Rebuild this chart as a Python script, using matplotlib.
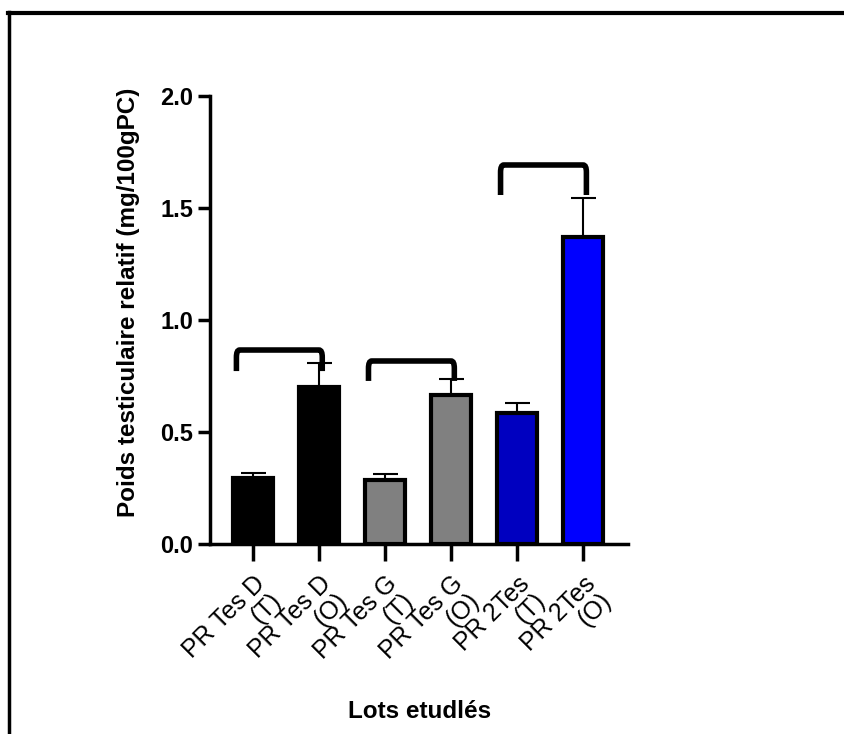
import matplotlib
matplotlib.use("Agg")
import matplotlib.pyplot as plt
from matplotlib.lines import Line2D
from matplotlib.path import Path
from matplotlib.patches import PathPatch

plt.rcParams['font.family'] = ['Liberation Sans', 'DejaVu Sans']

# ── données ───────────────────────────────────────────
lots = ["PR Tes D\n(T)", "PR Tes D\n(O)", "PR Tes G\n(T)", "PR Tes G\n(O)", "PR 2Tes\n(T)", "PR 2Tes\n(O)"]
moyennes = [0.295, 0.70, 0.286, 0.665, 0.585, 1.37]
erreurs = [0.023, 0.108, 0.027, 0.073, 0.044, 0.175]
couleurs = ["#000000", "#000000", "#808080", "#808080", "#0000C0", "#0000FF"]
# paires comparées : (i, j, haut, bas)
paires = [(0, 1, 0.866, 0.772), (2, 3, 0.817, 0.728), (4, 5, 1.692, 1.558)]

fig = plt.figure(figsize=(8.44, 7.34), dpi=100)
ax = fig.add_axes([210/844, 190/734, 418/844, 448/734])

x = list(range(len(lots)))
ax.bar(x, moyennes, width=0.6, color=couleurs, edgecolor="black", linewidth=3, zorder=3)
ax.errorbar(x, moyennes, yerr=[[0]*len(x), erreurs], fmt="none", ecolor="black",
            elinewidth=1.5, capsize=9, capthick=1.5, zorder=2)

# crochets de comparaison
for i, j, haut, bas in paires:
    xl, xr = i - 0.25, j + 0.05
    r = 0.008
    verts = [(xl, bas), (xl, haut - r * 4), (xl, haut), (xl + 0.05, haut),
             (xr - 0.05, haut), (xr, haut), (xr, haut - r * 4), (xr, bas)]
    codes = [Path.MOVETO, Path.LINETO, Path.CURVE3, Path.CURVE3,
             Path.LINETO, Path.CURVE3, Path.CURVE3, Path.LINETO]
    ax.add_patch(PathPatch(Path(verts, codes), fill=False, lw=4, color="black",
                           capstyle="butt", zorder=4))

ax.set_xlim(-0.65, 5.68)
ax.set_ylim(0, 2.0)
ax.set_yticks([0, 0.5, 1.0, 1.5, 2.0])
ax.set_yticklabels(["0.0", "0.5", "1.0", "1.5", "2.0"], fontsize=17, fontweight="bold")
ax.set_xticks(x)
ax.set_xticklabels(lots, rotation=45, ha="right", va="top", rotation_mode="anchor",
                   fontsize=18, linespacing=0.95)
ax.tick_params(axis="y", length=9, width=2.5, pad=3)
ax.tick_params(axis="x", length=12, width=2.5, pad=8)
for s in ["top", "right"]:
    ax.spines[s].set_visible(False)
for s in ["left", "bottom"]:
    ax.spines[s].set_linewidth(2.5)

ax.set_ylabel("Poids testiculaire relatif (mg/100gPC)", fontsize=17.5, fontweight="bold")
ax.yaxis.set_label_coords(-0.168, 0.54)
fig.text(420/844, 1 - 712/734, "Lots etudlés", ha="center", va="center", fontsize=17.5, fontweight="bold")

# cadre partiel
fig.add_artist(Line2D([9/844, 9/844], [0, 1 - 12/734], color="black", lw=2.5, transform=fig.transFigure))
fig.add_artist(Line2D([8/844, 1], [1 - 13/734, 1 - 13/734], color="black", lw=3, transform=fig.transFigure))

fig.savefig("out.png", dpi=100)
